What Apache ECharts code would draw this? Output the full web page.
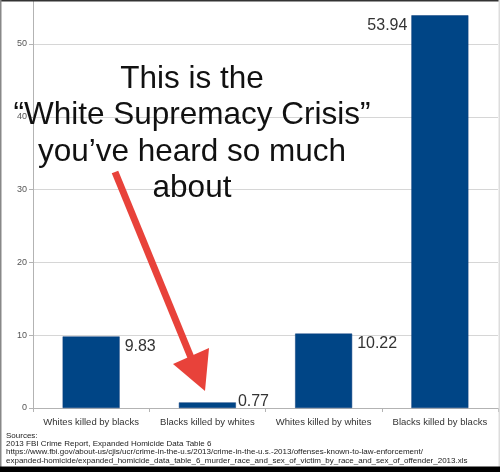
<!DOCTYPE html>
<html>
<head>
<meta charset="utf-8">
<script src="https://cdn.jsdelivr.net/npm/echarts@6/dist/echarts.min.js"></script>
<style>
  html, body { margin: 0; padding: 0; background: #fff; }
  #chart { width: 500px; height: 472px; }
</style>
</head>
<body>
<div id="chart"></div>
<script>
// data
var categories = ['Whites killed by blacks', 'Blacks killed by whites', 'Whites killed by whites', 'Blacks killed by blacks'];
var values = [9.83, 0.77, 10.22, 53.94];
var yMin = 0, yMax = 56, yStep = 10;   // top of the axis is cropped off in the original

var headline = ['This is the', '\u201CWhite Supremacy Crisis\u201D', 'you\u2019ve heard so much', 'about'];
var sources = [
  'Sources:',
  '2013 FBI Crime Report, Expanded Homicide Data Table 6',
  'https://www.fbi.gov/about-us/cjis/ucr/crime-in-the-u.s/2013/crime-in-the-u.s.-2013/offenses-known-to-law-enforcement/',
  'expanded-homicide/expanded_homicide_data_table_6_murder_race_and_sex_of_victim_by_race_and_sex_of_offender_2013.xls'
];

var font = '"Liberation Sans", Arial, sans-serif';

// value labels sit beside the top of each bar; the tallest one goes on the left
function labelFor(i) {
  var base = {
    show: true,
    fontFamily: font,
    fontSize: 16,
    color: '#333',
    verticalAlign: 'top'
  };
  if (i === values.length - 1) {
    base.position = [0, 0];
    base.align = 'right';
    base.offset = [-4, 2];
  } else {
    base.position = ['100%', 0];
    base.align = 'left';
    base.offset = [i === 1 ? 2 : 5, i === 1 ? -9 : 2];
  }
  return base;
}

var myChart = echarts.init(document.getElementById('chart'));

var graphics = [];
// frame
graphics.push({ type: 'rect', shape: { x: 0, y: 0, width: 500, height: 1.5 }, style: { fill: '#333' }, z: 100 });
graphics.push({ type: 'rect', shape: { x: 0, y: 0, width: 1.5, height: 472 }, style: { fill: '#888' }, z: 100 });
graphics.push({ type: 'rect', shape: { x: 498.5, y: 0, width: 1.5, height: 472 }, style: { fill: '#ddd' }, z: 100 });
graphics.push({ type: 'rect', shape: { x: 0, y: 466.5, width: 500, height: 6 }, style: { fill: '#000' }, z: 100 });

// overlay headline
graphics.push({
  type: 'text',
  x: 192, y: 61,
  z: 50,
  style: {
    text: headline.join('\n'),
    fontFamily: font,
    fontSize: 31.5,
    lineHeight: 36.5,
    fill: '#111',
    align: 'center',
    verticalAlign: 'top'
  }
});

// red arrow
graphics.push({
  type: 'line', z: 60,
  shape: { x1: 115, y1: 172, x2: 192, y2: 360 },
  style: { stroke: '#e8423a', lineWidth: 7 }
});
graphics.push({
  type: 'polygon', z: 60,
  shape: { points: [[173, 364], [209, 348], [205, 391]] },
  style: { fill: '#e8423a' }
});

// sources footnote
var srcY = [435.5, 443.5, 452, 460.5];
sources.forEach(function (s, i) {
  graphics.push({
    type: 'text', z: 40,
    x: 6, y: srcY[i],
    style: {
      text: s,
      fontFamily: font,
      fontSize: 8,
      fill: '#222',
      align: 'left',
      verticalAlign: 'middle'
    }
  });
});

var option = {
  animation: false,
  backgroundColor: '#fff',
  grid: {
    left: 33,
    right: 2,
    top: 408 - yMax * 7.28,
    bottom: 64
  },
  xAxis: {
    type: 'category',
    data: categories,
    axisLine: { lineStyle: { color: '#b3b3b3', width: 1 } },
    axisTick: { show: true, length: 4, lineStyle: { color: '#b3b3b3' } },
    axisLabel: {
      interval: 0,
      fontFamily: font,
      fontSize: 9.5,
      color: '#333',
      margin: 9
    }
  },
  yAxis: {
    type: 'value',
    min: yMin,
    max: yMax,
    interval: yStep,
    axisLine: { show: true, lineStyle: { color: '#b3b3b3', width: 1 } },
    axisTick: { show: true, length: 4, lineStyle: { color: '#b3b3b3' } },
    splitLine: { lineStyle: { color: '#d6d6d6', width: 1 } },
    axisLabel: {
      showMaxLabel: false,
      fontFamily: font,
      fontSize: 9,
      color: '#555',
      margin: 6
    }
  },
  series: [{
    type: 'bar',
    barWidth: 57,
    itemStyle: { color: '#004586', borderColor: '#0b3d7a', borderWidth: 0.5 },
    data: values.map(function (v, i) {
      return { value: v, label: labelFor(i) };
    })
  }],
  graphic: graphics
};

myChart.setOption(option);
</script>
</body>
</html>
